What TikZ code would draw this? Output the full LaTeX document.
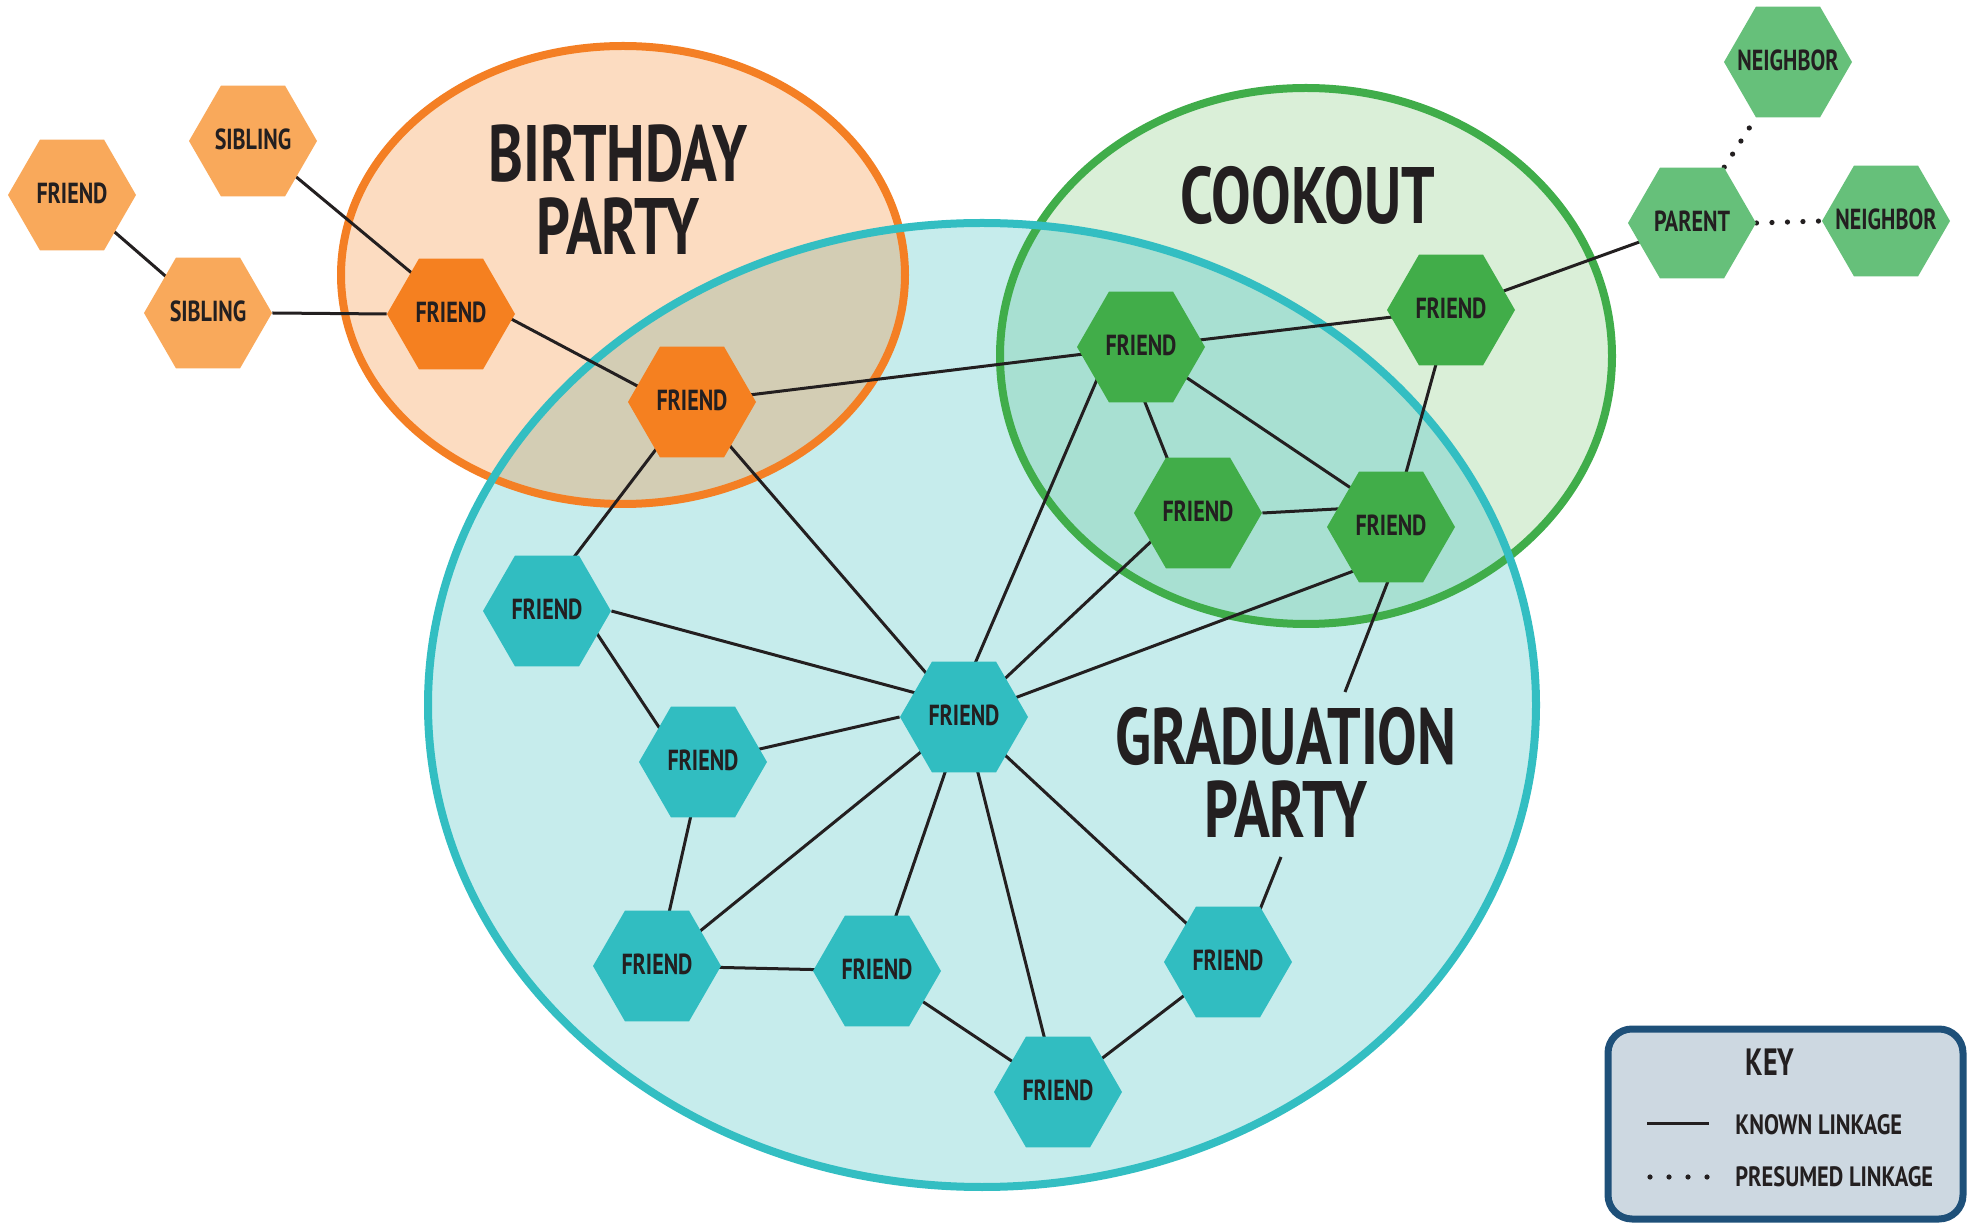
\documentclass[tikz,border=0pt]{standalone}
\usepackage{fontspec}
\setmainfont{PT Sans}[FakeStretch=0.8]
\newfontfamily\hexfont{PT Sans}[FakeStretch=0.76]
\newfontfamily\titlefont{PT Sans}[FakeStretch=0.74]
\usetikzlibrary{shapes.geometric}
\pgfdeclarelayer{bglayer}
\pgfdeclarelayer{edgelayer}
\pgfsetlayers{bglayer,edgelayer,main}
\definecolor{txt}{HTML}{231F20}
\definecolor{orD}{HTML}{F58020}
\definecolor{orL}{HTML}{F9A95B}
\definecolor{grD}{HTML}{41AD49}
\definecolor{grL}{HTML}{66C07A}
\definecolor{tealC}{HTML}{31BDC1}
\definecolor{bdayfill}{HTML}{FCDCC1}
\definecolor{cookfill}{HTML}{DAEFD8}
\definecolor{gradfill}{HTML}{C6ECEC}
\definecolor{bgov}{HTML}{D3CDB4}
\definecolor{cgov}{HTML}{A8E0D2}
\definecolor{bdayline}{HTML}{F47F24}
\definecolor{cookline}{HTML}{40AD4A}
\definecolor{gradline}{HTML}{33BEC2}
\definecolor{keyfill}{HTML}{CDD8E1}
\definecolor{keyline}{HTML}{1E5079}
\newcommand{\hl}[1]{\makebox[0pt]{\raisebox{1.5pt}{#1}}}
\tikzset{
  hex/.style={regular polygon, regular polygon sides=6, minimum size=64pt, inner sep=0pt,
    font=\hexfont\bfseries\fontsize{14.5}{15}\selectfont, text=txt, draw=none},
  hexOL/.style={hex, fill=orL},
  hexOD/.style={hex, fill=orD},
  hexGD/.style={hex, fill=grD},
  hexGL/.style={hex, fill=grL},
  hexT/.style={hex, fill=tealC},
  link/.style={draw=txt, line width=1.5pt},
  dotlink/.style={draw=txt, line width=2.6pt, line cap=round, dash pattern=on 0pt off 7.75pt},
  ringline/.style={line width=4pt},
  titletext/.style={font=\titlefont\bfseries\fontsize{40}{36.5}\selectfont, text=txt, align=center, inner sep=0pt},
  keytext/.style={anchor=west, font=\bfseries\fontsize{14}{15}\selectfont, text=txt, inner sep=0pt},
}
\begin{document}
\begin{tikzpicture}[x=0.5pt, y=-0.5pt]
\useasboundingbox (0,0) rectangle (1967,1224);
\begin{pgfonlayer}{bglayer}
\fill[white] (0,0) rectangle (1967,1224);
\fill[gradfill] (982,705) ellipse [x radius=554, y radius=482];
\fill[bdayfill] (623,275) ellipse [x radius=282, y radius=229];
\fill[cookfill] (1306,356) ellipse [x radius=306, y radius=268];
\begin{scope}
  \clip (982,705) ellipse [x radius=554, y radius=482];
  \fill[bgov] (623,275) ellipse [x radius=282, y radius=229];
  \fill[cgov] (1306,356) ellipse [x radius=306, y radius=268];
\end{scope}
\draw[bdayline, ringline] (623,275) ellipse [x radius=282, y radius=229];
\draw[cookline, ringline] (1306,356) ellipse [x radius=306, y radius=268];
\draw[gradline, ringline] (982,705) ellipse [x radius=554, y radius=482];
\end{pgfonlayer}

% hexagon nodes
\node[hexOL] (oF1) at (72,195) {\hl{FRIEND}};
\node[hexOL] (oS1) at (253,141) {\hl{SIBLING}};
\node[hexOL] (oS2) at (208,313) {\hl{SIBLING}};
\node[hexOD] (oF2) at (451,314) {\hl{FRIEND}};
\node[hexOD] (oF3) at (692,402) {\hl{FRIEND}};
\node[hexGD] (gF1) at (1141,347) {\hl{FRIEND}};
\node[hexGD] (gF2) at (1451,310) {\hl{FRIEND}};
\node[hexGD] (gF3) at (1198,513) {\hl{FRIEND}};
\node[hexGD] (gF4) at (1391,527) {\hl{FRIEND}};
\node[hexGL] (gP) at (1692,223) {\hl{PARENT}};
\node[hexGL] (gN1) at (1788,62) {\hl{NEIGHBOR}};
\node[hexGL] (gN2) at (1886,221) {\hl{NEIGHBOR}};
\node[hexT] (t1) at (547,611) {\hl{FRIEND}};
\node[hexT] (t0) at (964,717) {\hl{FRIEND}};
\node[hexT] (t2) at (703,762) {\hl{FRIEND}};
\node[hexT] (t3) at (657,966) {\hl{FRIEND}};
\node[hexT] (t4) at (877,971) {\hl{FRIEND}};
\node[hexT] (t5) at (1058,1092) {\hl{FRIEND}};
\node[hexT] (t6) at (1228,962) {\hl{FRIEND}};

\coordinate (gapA) at (1345,692);
\coordinate (gapB) at (1281,857);

% connectors
\begin{pgfonlayer}{edgelayer}
\path[link] (oF1.center) -- (oS2.center);
\path[link] (oS1.center) -- ([xshift=5pt]oF2.center);
\path[link] (oS2.east) -- (oF2.west);
\path[link] ([yshift=13.5pt]oF2.center) -- ([yshift=-6.5pt]oF3.center);
\path[link] (oF3.center) -- (gF1.center);
\path[link] (oF3.center) -- ([xshift=-7pt]t1.center);
\path[link] (oF3.center) -- (t0.center);
\path[link] (gF1.center) -- (gF2.center);
\path[link] (gF2.center) -- (gP.center);
\path[link] ([xshift=-9pt]gF1.center) -- ([xshift=-4.5pt]gF3.center);
\path[link] (gF1.center) -- ([yshift=6pt]gF4.center);
\path[link] (gF3.east) -- ([yshift=10.5pt]gF4.center);
\path[link] (gF2.center) -- (gF4.center);
\path[link] ([xshift=-15pt]gF1.center) -- ([xshift=-6pt]t0.center);
\path[link] ([shift={(-4pt,4pt)}]gF3.center) -- (t0.center);
\path[link] ([yshift=-15pt]gF4.center) -- (t0.center);
\path[link] ([xshift=9pt]gF4.center) -- (gapA) (gapB) -- ([xshift=5.5pt]t6.center);
\path[dotlink] (gP.60) -- (gN1.240);
\path[dotlink] (gP.east) -- (gN2.west);
\path[link] (t1.east) -- ([yshift=5.5pt]t0.center);
\path[link] ([xshift=17.5pt]t1.center) -- ([xshift=-10.5pt]t2.center);
\path[link] (t2.center) -- (t0.west);
\path[link] (t2.center) -- (t3.center);
\path[link] (t0.center) -- (t3.center);
\path[link] (t3.center) -- (t4.center);
\path[link] (t0.center) -- (t4.center);
\path[link] (t4.center) -- (t5.center);
\path[link] (t0.center) -- (t5.center);
\path[link] (t0.center) -- (t6.center);
\path[link] (t5.center) -- (t6.center);
\end{pgfonlayer}

% titles
\node[titletext] (tB) at (618,190) {BIRTHDAY\\PARTY};
\node[titletext] (tC) at (1308,196) {COOKOUT};
\node[titletext] (tG) at (1286,772) {GRADUATION\\PARTY};

% key
\draw[keyline, line width=3.5pt, fill=keyfill, rounded corners=12pt] (1608,1029) rectangle (1963,1219);
\node[font=\titlefont\bfseries\fontsize{19}{20}\selectfont, text=txt] (kT) at (1770,1062) {KEY};
\coordinate (k1a) at (1647,1123);
\coordinate (k1b) at (1709,1123);
\coordinate (k2a) at (1650,1177);
\coordinate (k2b) at (1708,1177);
\draw[link] (k1a) -- (k1b);
\draw[draw=txt, line width=2.6pt, line cap=round, dash pattern=on 0pt off 9.5pt] (k2a) -- (k2b);
\node[keytext] (kL1) at (1735,1125) {KNOWN LINKAGE};
\node[keytext] (kL2) at (1735,1177) {PRESUMED LINKAGE};
\end{tikzpicture}
\end{document}
